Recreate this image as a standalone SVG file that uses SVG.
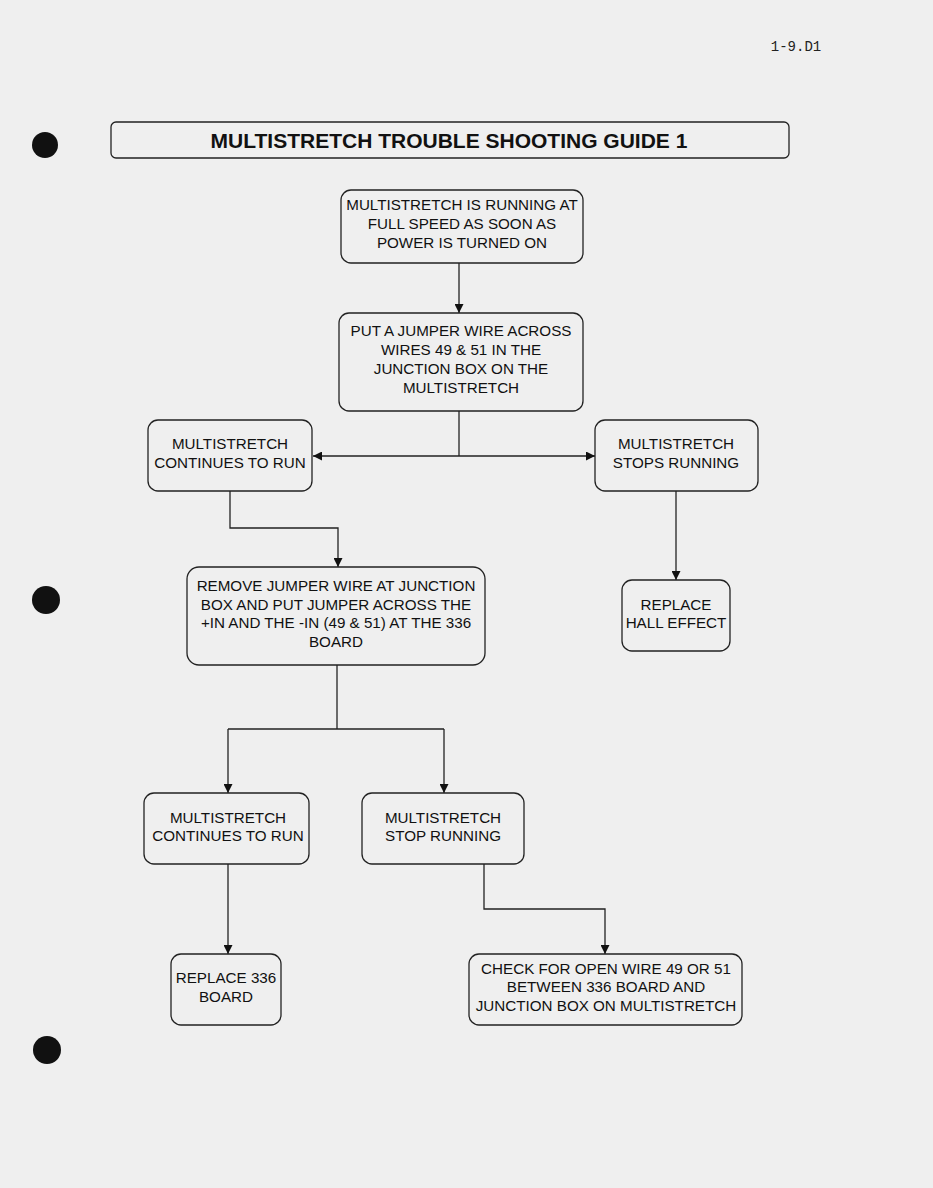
<svg xmlns="http://www.w3.org/2000/svg" width="933" height="1188" viewBox="0 0 933 1188">
<style>
.box{fill:none;stroke:#222;stroke-width:1.3}
.t{font-family:"Liberation Sans",Arial,sans-serif;font-size:15.2px;fill:#111;text-anchor:middle;dominant-baseline:central}
.ln{fill:none;stroke:#222;stroke-width:1.3}
</style>
<defs>
<marker id="ah" viewBox="0 0 10 10" refX="10" refY="5" markerWidth="9" markerHeight="9" markerUnits="userSpaceOnUse" orient="auto"><path d="M0,0 L10,5 L0,10 Z" fill="#111"/></marker>
</defs>
<rect width="933" height="1188" fill="#efefef"/>
<circle cx="45" cy="145" r="13" fill="#111"/>
<circle cx="46" cy="600" r="14" fill="#111"/>
<circle cx="47" cy="1050" r="14" fill="#111"/>
<text x="796" y="47" font-family="Liberation Mono,monospace" font-size="14" fill="#222" text-anchor="middle" dominant-baseline="central">1-9.D1</text>
<g id="title">
<rect x="111" y="122" width="678" height="36" rx="5" class="box"/>
<text x="449" y="140" font-family="Liberation Sans,Arial,sans-serif" font-size="21" font-weight="bold" fill="#111" text-anchor="middle" dominant-baseline="central">MULTISTRETCH TROUBLE SHOOTING GUIDE 1</text>
</g>
<g id="connectors">
<path class="ln" d="M459,263 V313" marker-end="url(#ah)"/>
<path class="ln" d="M459,411 V456"/>
<path class="ln" d="M459,456 H313" marker-end="url(#ah)"/>
<path class="ln" d="M459,456 H595" marker-end="url(#ah)"/>
<path class="ln" d="M230,491 V528 H338 V567" marker-end="url(#ah)"/>
<path class="ln" d="M676,491 V580" marker-end="url(#ah)"/>
<path class="ln" d="M337,665 V729"/>
<path class="ln" d="M228,729 H444"/>
<path class="ln" d="M228,729 V793" marker-end="url(#ah)"/>
<path class="ln" d="M444,729 V793" marker-end="url(#ah)"/>
<path class="ln" d="M228,864 V954" marker-end="url(#ah)"/>
<path class="ln" d="M484,864 V909 H605 V954" marker-end="url(#ah)"/>
</g>
<g id="n1">
<rect x="341" y="190" width="242" height="73" rx="10" class="box"/>
<text class="t" x="462" y="204">MULTISTRETCH IS RUNNING AT</text>
<text class="t" x="462" y="223">FULL SPEED AS SOON AS</text>
<text class="t" x="462" y="242">POWER IS TURNED ON</text>
</g>
<g id="n2">
<rect x="339" y="313" width="244" height="98" rx="10" class="box"/>
<text class="t" x="461" y="330">PUT A JUMPER WIRE ACROSS</text>
<text class="t" x="461" y="349">WIRES 49 &amp; 51 IN THE</text>
<text class="t" x="461" y="368">JUNCTION BOX ON THE</text>
<text class="t" x="461" y="387">MULTISTRETCH</text>
</g>
<g id="n3">
<rect x="148" y="420" width="164" height="71" rx="10" class="box"/>
<text class="t" x="230" y="443">MULTISTRETCH</text>
<text class="t" x="230" y="462">CONTINUES TO RUN</text>
</g>
<g id="n4">
<rect x="595" y="420" width="163" height="71" rx="10" class="box"/>
<text class="t" x="676" y="443">MULTISTRETCH</text>
<text class="t" x="676" y="462">STOPS RUNNING</text>
</g>
<g id="n5">
<rect x="187" y="567" width="298" height="98" rx="12" class="box"/>
<text class="t" x="336" y="585">REMOVE JUMPER WIRE AT JUNCTION</text>
<text class="t" x="336" y="604">BOX AND PUT JUMPER ACROSS THE</text>
<text class="t" x="336" y="622">+IN AND THE -IN (49 &amp; 51) AT THE 336</text>
<text class="t" x="336" y="641">BOARD</text>
</g>
<g id="n6">
<rect x="622" y="580" width="108" height="71" rx="10" class="box"/>
<text class="t" x="676" y="604">REPLACE</text>
<text class="t" x="676" y="622">HALL EFFECT</text>
</g>
<g id="n7">
<rect x="144" y="793" width="165" height="71" rx="10" class="box"/>
<text class="t" x="228" y="817">MULTISTRETCH</text>
<text class="t" x="228" y="835">CONTINUES TO RUN</text>
</g>
<g id="n8">
<rect x="362" y="793" width="162" height="71" rx="10" class="box"/>
<text class="t" x="443" y="817">MULTISTRETCH</text>
<text class="t" x="443" y="835">STOP RUNNING</text>
</g>
<g id="n9">
<rect x="171" y="954" width="110" height="71" rx="10" class="box"/>
<text class="t" x="226" y="977">REPLACE 336</text>
<text class="t" x="226" y="996">BOARD</text>
</g>
<g id="n10">
<rect x="469" y="954" width="273" height="71" rx="10" class="box"/>
<text class="t" x="606" y="968">CHECK FOR OPEN WIRE 49 OR 51</text>
<text class="t" x="606" y="986">BETWEEN 336 BOARD AND</text>
<text class="t" x="606" y="1005">JUNCTION BOX ON MULTISTRETCH</text>
</g>
</svg>
